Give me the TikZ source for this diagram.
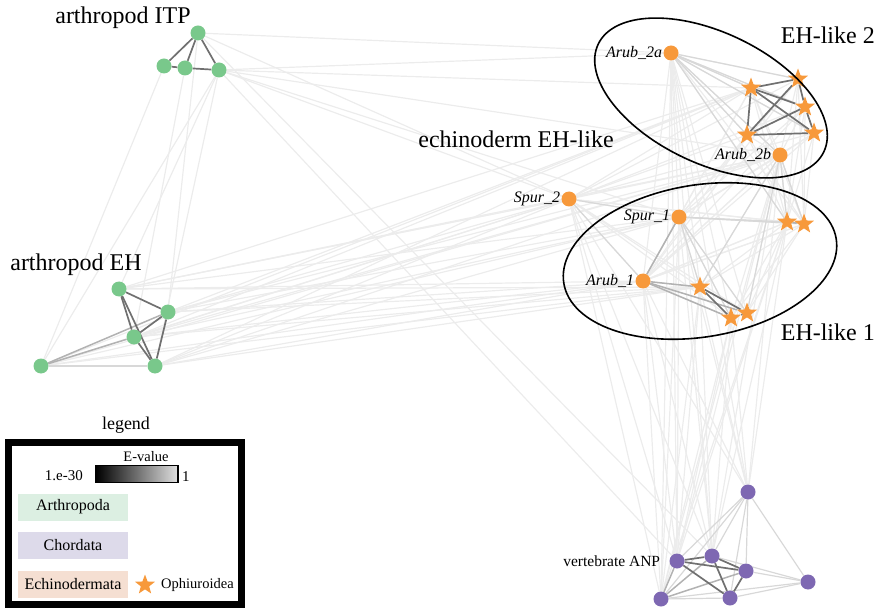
\documentclass[tikz,border=0pt]{standalone}
\usepackage{fontspec}
\setmainfont{Liberation Serif}
\usetikzlibrary{shapes.geometric, backgrounds}
\definecolor{echo}{HTML}{F7993B}
\definecolor{arth}{HTML}{79C88B}
\definecolor{chor}{HTML}{7E68B2}
\definecolor{faint}{HTML}{ECECEC}
\definecolor{pale}{HTML}{D8D8D8}
\definecolor{strong}{HTML}{707070}
\definecolor{arthbg}{HTML}{DCEFE2}
\definecolor{chorbg}{HTML}{DDDAEA}
\definecolor{echobg}{HTML}{F5DFD2}

\begin{document}
\begin{tikzpicture}[x=1pt,y=-1pt,
    dot/.style={circle, fill=#1, inner sep=0pt, minimum size=15pt},
    ophi/.style={star, star points=5, star point ratio=2.4, fill=echo, inner sep=0pt, minimum size=21pt},
    weak/.style={draw=faint, line width=1.2pt},
    soft/.style={draw=pale, line width=1.2pt},
    mid/.style={draw=gray!60, line width=1.5pt},
    tight/.style={draw=strong, line width=1.7pt},
    tag/.style={font=\itshape\fontsize{16}{18}\selectfont, anchor=east, inner sep=1pt},
    group/.style={font=\fontsize{24}{28}\selectfont},
    key/.style={minimum width=110pt, minimum height=27pt, inner sep=0pt, font=\fontsize{16}{18}\selectfont}]
  \useasboundingbox (0,0) rectangle (877,609);

  % arthropod ITP
  \node[dot=arth] (itpA) at (198,33) {};
  \node[dot=arth] (itpB) at (164,66) {};
  \node[dot=arth] (itpC) at (185,68) {};
  \node[dot=arth] (itpD) at (219,70) {};
  % arthropod EH
  \node[dot=arth] (ehA) at (119,289) {};
  \node[dot=arth] (ehB) at (168,312) {};
  \node[dot=arth] (ehC) at (134,337) {};
  \node[dot=arth] (ehD) at (41,366) {};
  \node[dot=arth] (ehE) at (155,366) {};
  % echinoderm
  \node[dot=echo] (a2a) at (671,53) {};
  \node[ophi] (o1) at (751,88) {};
  \node[ophi] (o2) at (798,79) {};
  \node[ophi] (o3) at (805,107) {};
  \node[ophi] (o4) at (747,135) {};
  \node[ophi] (o5) at (814,133) {};
  \node[dot=echo] (a2b) at (780,155) {};
  \node[dot=echo] (sp2) at (569,199) {};
  \node[dot=echo] (sp1) at (679,217) {};
  \node[ophi] (o6) at (787,222) {};
  \node[ophi] (o7) at (804,224) {};
  \node[dot=echo] (a1) at (643,281) {};
  \node[ophi] (o8) at (700,287) {};
  \node[ophi] (o9) at (731,318) {};
  \node[ophi] (o10) at (747,313) {};
  % vertebrate ANP
  \node[dot=chor] (vA) at (748,492) {};
  \node[dot=chor] (vB) at (712,556) {};
  \node[dot=chor] (vC) at (677,561) {};
  \node[dot=chor] (vD) at (746,571) {};
  \node[dot=chor] (vE) at (808,582) {};
  \node[dot=chor] (vF) at (661,599) {};
  \node[dot=chor] (vG) at (730,598) {};

  \begin{pgfonlayer}{background}
  % faint edges
  \foreach \s in {ehA,ehB,ehC,ehD,ehE}
    \foreach \t in {sp2,sp1,a1,a2b,o8,o1}
      \draw[weak] (\s) -- (\t);
  \foreach \t in {a2a,sp2,o1,a2b,sp1,ehD,ehA,ehE,vC}
    \draw[weak] (itpD) -- (\t);
  \foreach \t in {a2a,sp2,ehB,vB}
    \draw[weak] (itpA) -- (\t);
  \draw[weak] (itpB) -- (ehD);
  \draw[weak] (itpC) -- (ehC);
  \foreach \s in {a2a,sp2,sp1,a1,o8,o9,a2b,o6}
    \foreach \t in {vA,vB,vC,vF}
      \draw[weak] (\s) -- (\t);
  \foreach \s in {a2a,a2b,sp2,sp1,a1,o6,o7}
    \foreach \t in {o1,o2,o3,o4,o5,a2b,sp1,a1,o6,o7,o8,o9,o10}
      \draw[weak] (\s) -- (\t);

  % pale edges
  \foreach \t in {o1,o2,o3,o4,o5,a2b,o6}
    \draw[soft] (a2a) -- (\t);
  \foreach \t in {o6,o7,o8,o10}
    \draw[soft] (a2b) -- (\t);
  \foreach \t in {o6,o7,o8,o9,o10}
    \draw[soft] (sp1) -- (\t);
  \draw[soft] (sp2) -- (sp1);
  \draw[soft] (sp2) -- (a1);
  \draw[soft] (ehD) -- (ehE);
  \foreach \t in {vB,vC,vD,vE,vF,vG}
    \draw[soft] (vA) -- (\t);
  \foreach \s/\t in {vD/vE,vB/vE,vG/vE,vF/vE,vF/vG}
    \draw[soft] (\s) -- (\t);

  % medium edges
  \draw[mid] (sp1) -- (a1);
  \draw[mid] (o6) -- (o7);
  \foreach \t in {o8,o9,o10}
    \draw[mid] (a1) -- (\t);
  \draw[mid] (ehD) -- (ehC);
  \draw[mid] (ehD) -- (ehB);
  \foreach \s/\t in {vC/vF,vF/vD,vB/vF}
    \draw[mid] (\s) -- (\t);

  % strong edges
  \foreach \s/\t in {itpA/itpB,itpA/itpC,itpA/itpD,itpB/itpC,itpC/itpD}
    \draw[tight] (\s) -- (\t);
  \foreach \s/\t in {ehA/ehB,ehA/ehC,ehA/ehE,ehB/ehC,ehB/ehE,ehC/ehE}
    \draw[tight] (\s) -- (\t);
  \foreach \s/\t in {o1/o2,o1/o3,o1/o4,o1/o5,o2/o3,o2/o4,o3/o4,o3/o5,o4/o5}
    \draw[tight] (\s) -- (\t);
  \foreach \s/\t in {o8/o9,o8/o10,o9/o10}
    \draw[tight] (\s) -- (\t);
  \foreach \s/\t in {vC/vB,vB/vD,vC/vD,vC/vG,vB/vG,vD/vG}
    \draw[tight] (\s) -- (\t);
  \end{pgfonlayer}

  % node names
  \node[tag] (lA2a) at (a2a.west) {Arub\_2a};
  \node[tag] (lA2b) at (a2b.west) {Arub\_2b};
  \node[tag] (lSp2) at (sp2.west) {Spur\_2};
  \node[tag] (lSp1) at (sp1.west) {Spur\_1};
  \node[tag] (lA1) at (a1.west) {Arub\_1};
  \node[font=\fontsize{15.5}{18}\selectfont, anchor=east, inner sep=0pt] (lANP) at ([xshift=-9pt]vC.west) {vertebrate ANP};

  % groups
  \node[draw, ellipse, line width=1.6pt, rotate=-25.5, minimum width=250pt, minimum height=131pt] (grpB) at (711,98) {};
  \node[draw, ellipse, line width=1.6pt, rotate=9.3, minimum width=276pt, minimum height=152pt] (grpA) at (700,261) {};
  \node[group] (tITP) at (123,18) {arthropod ITP};
  \node[group] (tEH) at (76,265) {arthropod EH};
  \node[group] (tEcho) at (516,139) {echinoderm EH-like};
  \node[group, anchor=east, inner sep=1pt] (tB) at (876,35) {EH-like 2};
  \node[group, anchor=east, inner sep=1pt] (tA) at (876,332) {EH-like 1};

  % legend
  \node[font=\fontsize{18}{20}\selectfont] (lgd) at (126,425) {legend};
  \draw[line width=7pt] (8.5,442.5) rectangle (241.5,604.5);
  \node[font=\fontsize{14.5}{16}\selectfont] (eval) at (146,457) {E-value};
  \node[draw, line width=1.2pt, minimum width=82pt, minimum height=17pt, inner sep=0pt,
        left color=black, right color=black!12] (bar) at (137,474) {};
  \node[font=\fontsize{15}{17}\selectfont, anchor=east, inner sep=0pt] (lo) at (83,476) {1.e-30};
  \node[font=\fontsize{15}{17}\selectfont, anchor=west, inner sep=0pt] (hi) at (182,477) {1};
  \node[key, fill=arthbg] (kArth) at (73,507) {Arthropoda};
  \node[key, fill=chorbg] (kChor) at (73,545.5) {Chordata};
  \node[key, fill=echobg] (kEcho) at (73,584.5) {Echinodermata};
  \node[ophi] (kStar) at (145,585) {};
  \node[font=\fontsize{14.5}{17}\selectfont, anchor=west, inner sep=0pt] (kOphi) at (161,585) {Ophiuroidea};
\end{tikzpicture}
\end{document}
